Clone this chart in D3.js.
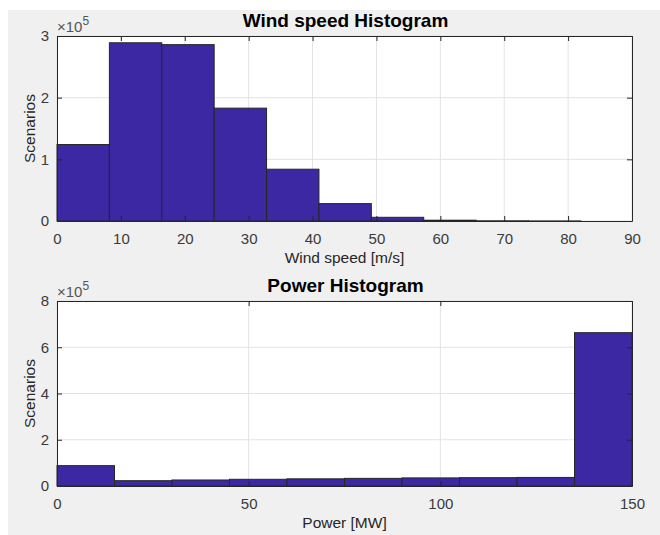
<!DOCTYPE html>
<html>
<head>
<meta charset="utf-8">
<script src="https://cdn.jsdelivr.net/npm/d3@7/dist/d3.min.js"></script>
<style>
  html, body { margin: 0; padding: 0; background: #ffffff; }
  svg { display: block; }
  text { font-family: "Liberation Sans", Arial, Helvetica, sans-serif; }
</style>
</head>
<body>
<svg id="fig" width="660" height="535"></svg>
<script>
// Wind speed histogram: 10 bins from 0 to 82 m/s
const windEdges = [0, 8.2, 16.4, 24.6, 32.8, 41.0, 49.2, 57.4, 65.6, 73.8, 82.0];
const windCounts = [124000, 289000, 286000, 183000, 84000, 28200, 6000, 1300, 300, 100];
const windXTicks = [0, 10, 20, 30, 40, 50, 60, 70, 80, 90];
const windYTicks = [0, 1, 2, 3];

// Power histogram: 10 bins from 0 to 150 MW
const powerEdges = [0, 15, 30, 45, 60, 75, 90, 105, 120, 135, 150];
const powerCounts = [88000, 23000, 26000, 29000, 31000, 33000, 35000, 36000, 37000, 663000];
const powerXTicks = [0, 50, 100, 150];
const powerYTicks = [0, 2, 4, 6, 8];

const svg = d3.select("#fig");

// figure background
svg.append("rect").attr("x", 8).attr("y", 10).attr("width", 652).attr("height", 525).attr("fill", "#f0f0f0");

const barFill = "#3b28a2";
const barEdge = "#262626";
const axisColor = "#262626";
const gridColor = "#e3e3e3";

function panel(opt) {
  const {left, right, top, bottom, edges, counts, xDomain, xTicks, yDomain, yTicks, title, xlabel} = opt;
  const x = d3.scaleLinear().domain(xDomain).range([left, right]);
  const y = d3.scaleLinear().domain(yDomain.map(v => v * 1e5)).range([bottom, top]);
  const g = svg.append("g");

  g.append("rect").attr("x", left).attr("y", top).attr("width", right - left).attr("height", bottom - top).attr("fill", "#ffffff");

  // grid
  g.selectAll(".gx").data(xTicks).enter().append("line")
    .attr("x1", d => x(d)).attr("x2", d => x(d)).attr("y1", top).attr("y2", bottom)
    .attr("stroke", gridColor).attr("stroke-width", 1);
  g.selectAll(".gy").data(yTicks).enter().append("line")
    .attr("x1", left).attr("x2", right).attr("y1", d => y(d * 1e5)).attr("y2", d => y(d * 1e5))
    .attr("stroke", gridColor).attr("stroke-width", 1);

  // bars
  const bins = counts.map((c, i) => ({x0: edges[i], x1: edges[i + 1], c}));
  g.selectAll(".bar").data(bins).enter().append("rect")
    .attr("x", d => x(d.x0)).attr("width", d => x(d.x1) - x(d.x0))
    .attr("y", d => y(d.c)).attr("height", d => y(0) - y(d.c))
    .attr("fill", barFill).attr("stroke", barEdge).attr("stroke-width", 1);

  // box axes with inward ticks on all sides
  const tl = 5;
  const axB = d3.axisBottom(x).tickValues(xTicks).tickSizeInner(-tl).tickSizeOuter(0).tickPadding(12).tickFormat(d3.format("d"));
  const axT = d3.axisTop(x).tickValues(xTicks).tickSizeInner(-tl).tickSizeOuter(0).tickFormat("");
  const axL = d3.axisLeft(y).tickValues(yTicks.map(v => v * 1e5)).tickSizeInner(-tl).tickSizeOuter(0).tickPadding(8).tickFormat(d => d / 1e5);
  const axR = d3.axisRight(y).tickValues(yTicks.map(v => v * 1e5)).tickSizeInner(-tl).tickSizeOuter(0).tickFormat("");

  [[axB, `translate(0,${bottom})`], [axT, `translate(0,${top})`], [axL, `translate(${left},0)`], [axR, `translate(${right},0)`]].forEach(([ax, tr]) => {
    const a = g.append("g").attr("transform", tr).call(ax);
    a.select(".domain").attr("stroke", axisColor).attr("stroke-width", 1);
    a.selectAll(".tick line").attr("stroke", axisColor);
    a.selectAll(".tick text").attr("fill", "#3a3a3a").style("font-size", "15px")
      .style("font-family", '"Liberation Sans", Arial, sans-serif');
  });

  // exponent
  const ex = g.append("text").attr("x", left).attr("y", top - 4).attr("fill", "#555555").style("font-size", "15px");
  ex.append("tspan").text("×10");
  ex.append("tspan").attr("dy", -7).style("font-size", "12px").text("5");

  // title
  g.append("text").attr("x", (left + right) / 2 + 1).attr("y", top - 9).attr("text-anchor", "middle")
    .attr("fill", "#000").style("font-size", "19px").style("font-weight", "bold").text(title);

  // x label
  g.append("text").attr("x", (left + right) / 2).attr("y", bottom + 42).attr("text-anchor", "middle")
    .attr("fill", "#262626").style("font-size", "15.5px").text(xlabel);

  // y label
  g.append("text").attr("transform", `translate(35,${(top + bottom) / 2}) rotate(-90)`).attr("text-anchor", "middle")
    .attr("fill", "#262626").style("font-size", "15.5px").text("Scenarios");
}

panel({left: 57, right: 632, top: 36, bottom: 221, edges: windEdges, counts: windCounts,
  xDomain: [0, 90], xTicks: windXTicks, yDomain: [0, 3], yTicks: windYTicks,
  title: "Wind speed Histogram", xlabel: "Wind speed [m/s]"});

panel({left: 57, right: 632, top: 301, bottom: 486, edges: powerEdges, counts: powerCounts,
  xDomain: [0, 150], xTicks: powerXTicks, yDomain: [0, 8], yTicks: powerYTicks,
  title: "Power Histogram", xlabel: "Power [MW]"});
</script>
</body>
</html>
